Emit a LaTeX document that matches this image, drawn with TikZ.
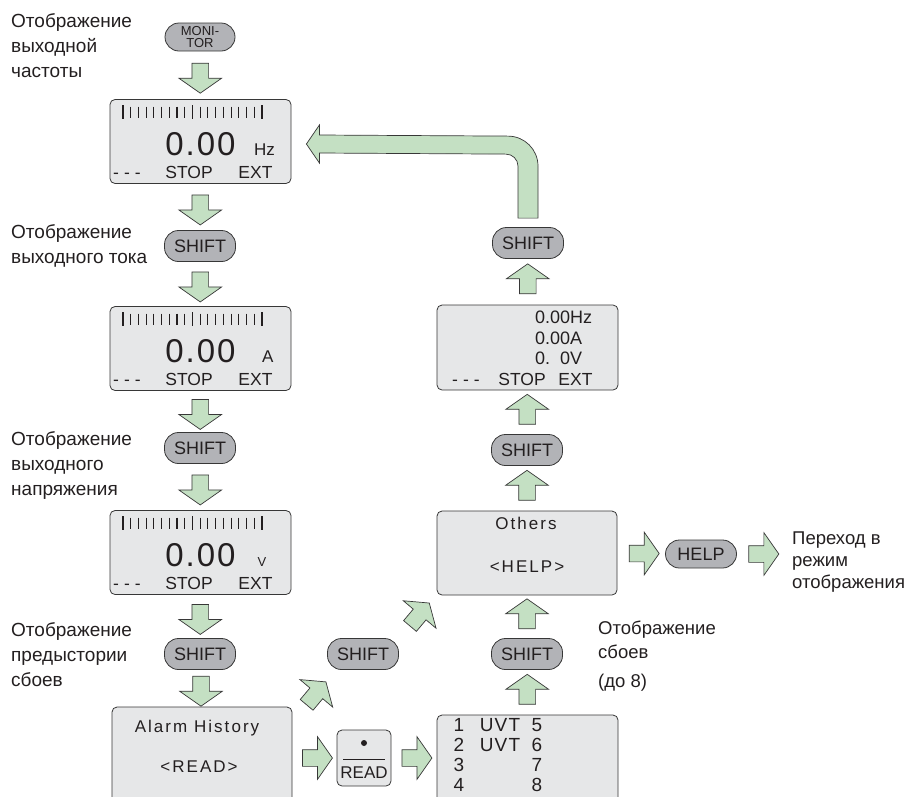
\documentclass[tikz,border=0pt]{standalone}
\usepackage{fontspec}
\setmainfont{Liberation Sans}
\usetikzlibrary{shapes.arrows,calc}

\definecolor{arrowgreen}{RGB}{196,224,195}
\definecolor{keygray}{RGB}{178,179,183}
\definecolor{panelgray}{RGB}{230,231,232}
\definecolor{edgegray}{RGB}{55,55,55}
\definecolor{inkdark}{RGB}{35,31,32}

\tikzset{
  lcdbox/.style={draw=edgegray, fill=panelgray, rounded corners=5pt, line width=0.8pt,
    minimum width=181pt, minimum height=84pt, inner sep=0pt},
  keycap/.style={draw=edgegray, fill=keygray, rounded corners=14pt, line width=0.8pt,
    minimum width=71pt, minimum height=31pt, inner sep=0pt, font=\fontsize{18}{18}\selectfont},
  barrow/.style={single arrow, draw=edgegray, fill=arrowgreen, line width=0.7pt,
    minimum height=30pt, minimum width=42pt, single arrow head extend=13pt,
    single arrow tip angle=110, inner sep=8pt},
  bigarrow/.style={draw=edgegray, fill=arrowgreen, line width=0.7pt},
  tickmark/.style={draw=inkdark, line width=1.1pt},
  digits/.style={anchor=base, inner sep=0pt, font=\fontsize{33}{33}\selectfont\addfontfeature{LetterSpace=6}},
  unitlabel/.style={anchor=base west, inner sep=0pt, font=\fontsize{17}{17}\selectfont},
  lcdtext/.style={anchor=base, inner sep=0pt, font=\fontsize{17.5}{17.5}\selectfont},
  spaced/.style={inner sep=0pt, font=\fontsize{17}{17}\selectfont\addfontfeature{LetterSpace=12}},
  sidetext/.style={anchor=west, align=left, inner sep=0pt, font=\fontsize{19}{25}\selectfont},
}

% one frequency/current/voltage screen: name, centre, unit, unit x offset
\newcommand{\lcdpanel}[4]{%
  \node[lcdbox] (#1) at (#2) {};
  \foreach \i in {0,...,18}
    \draw[tickmark] ($(#1.center)+(-77.5+7.72*\i,-35)$) -- ++(0,11.5);
  \foreach \i in {0,9,18}
    \draw[tickmark, line width=1.7pt] ($(#1.center)+(-77.5+7.72*\i,-36.5)$) -- ++(0,14);
  \node[digits] (#1-val) at ($(#1.center)+(0,13.5)$) {0.00};
  \node[unitlabel] (#1-unit) at ($(#1.center)+(#4,13.5)$) {#3};
  \node[lcdtext, anchor=base west] (#1-dash) at ($(#1.center)+(-87.5,36.5)$) {-\hspace{5pt}-\hspace{5pt}-};
  \node[lcdtext] (#1-stop) at ($(#1.center)+(-11.5,36.5)$) {STOP};
  \node[lcdtext] (#1-ext) at ($(#1.center)+(55,36.5)$) {EXT};
}

\begin{document}
\begin{tikzpicture}[x=1pt, y=-1pt, text=inkdark]
  \clip (0,0) rectangle (915,796);

  % left column
  \node[keycap, minimum width=70pt, minimum height=28pt, align=center,
    font=\fontsize{13}{12}\selectfont] (mon) at (200,37) {MONI-\\TOR};
  \lcdpanel{d1}{200.5,141.5}{Hz}{53.5}
  \node[keycap] (s1) at (200,246) {SHIFT};
  \lcdpanel{d2}{200.5,348.5}{A}{61.5}
  \node[keycap] (s2) at (200,448) {SHIFT};
  \lcdpanel{d3}{200.5,552.5}{\fontsize{13}{13}\selectfont V}{57}
  \node[keycap] (s3) at (200,654) {SHIFT};
  \node[lcdbox, minimum width=180pt, minimum height=98pt] (alarm) at (202,756) {};
  \node[spaced] (alarm-t) at (197,728) {Alarm History};
  \node[spaced] (alarm-r) at (199,767) {<READ>};

  \node[barrow, rotate=-90] (a1) at ($(mon.south)!0.5!(d1.north)$) {};
  \node[barrow, rotate=-90] (a2) at ($(d1.south)!0.5!(s1.north)$) {};
  \node[barrow, rotate=-90] (a3) at ($(s1.south)!0.5!(d2.north)$) {};
  \node[barrow, rotate=-90] (a4) at ($(d2.south)!0.5!(s2.north)$) {};
  \node[barrow, rotate=-90] (a5) at ($(s2.south)!0.5!(d3.north)$) {};
  \node[barrow, rotate=-90] (a6) at ($(d3.south)!0.5!(s3.north)$) {};
  \node[barrow, rotate=-90] (a7) at ($(s3.south)!0.5!(alarm.north)$) {};

  % bottom row
  \node[draw=edgegray, fill=panelgray, rounded corners=5pt, line width=0.8pt,
    minimum width=54pt, minimum height=56pt] (rd) at (364,758) {};
  \fill[inkdark] ($(rd.center)+(0,-15)$) circle (3pt);
  \draw[inkdark, line width=0.8pt] ($(rd.center)+(-21,1)$) -- ($(rd.center)+(21,1)$);
  \node[inner sep=0pt, font=\fontsize{17}{17}\selectfont] (rd-t) at ($(rd.center)+(0,15)$) {READ};
  \node[lcdbox, minimum height=92pt] (errs) at (527.5,761) {};
  \foreach \n/\m/\t [count=\r from 0] in {1/5/UVT, 2/6/UVT, 3/7/, 4/8/} {
    \node[inner sep=0pt, font=\fontsize{19}{19}\selectfont] (errs-n\n) at (459,725+20*\r) {\n};
    \node[inner sep=0pt, font=\fontsize{19}{19}\selectfont\addfontfeature{LetterSpace=6}] (errs-t\n) at (500,725+20*\r) {\t};
    \node[inner sep=0pt, font=\fontsize{19}{19}\selectfont] (errs-m\n) at (537,725+20*\r) {\m};
  }
  \node[barrow] (b1) at ($(alarm.east |- rd.west)!0.5!(rd.west)$) {};
  \node[barrow] (b2) at ($(rd.east)!0.5!(errs.west |- rd.east)$) {};

  % right column
  \node[keycap] (s6) at (527,654) {SHIFT};
  \node[lcdbox, minimum width=180pt] (oth) at (527,553) {};
  \node[spaced] (oth-t) at (526,523) {Others};
  \node[spaced] (oth-h) at (527,567) {<HELP>};
  \node[keycap] (s4) at (527,450) {SHIFT};
  \node[lcdbox, minimum height=85pt] (d4) at (527.5,347.5) {};
  \node[unitlabel, font=\fontsize{18}{18}\selectfont] (d4-f) at ($(d4.center)+(7.5,-24)$) {0.00Hz};
  \node[unitlabel, font=\fontsize{18}{18}\selectfont] (d4-a) at ($(d4.center)+(7.5,-3.5)$) {0.00A};
  \node[unitlabel, font=\fontsize{18}{18}\selectfont] (d4-v) at ($(d4.center)+(7.5,17)$) {0.\ \ 0V};
  \node[lcdtext, anchor=base west] (d4-dash) at ($(d4.center)+(-75.5,38)$) {-\hspace{5pt}-\hspace{5pt}-};
  \node[lcdtext] (d4-stop) at ($(d4.center)+(-5.5,38)$) {STOP};
  \node[lcdtext] (d4-ext) at ($(d4.center)+(48,38)$) {EXT};
  \node[keycap] (s5) at (528,243) {SHIFT};

  \node[barrow, rotate=90] (r1) at ($(errs.north)!0.5!(s6.south)$) {};
  \node[barrow, rotate=90] (r2) at ($(s6.north)!0.5!(oth.south)$) {};
  \node[barrow, rotate=90] (r3) at ($(oth.north)!0.5!(s4.south)$) {};
  \node[barrow, rotate=90] (r4) at ($(s4.north)!0.5!(d4.south)$) {};
  \node[barrow, rotate=90] (r5) at ($(d4.north)!0.5!(s5.south)$) {};

  % diagonal branch
  \node[keycap] (s7) at (363,654) {SHIFT};
  \node[barrow, rotate=50] (c1) at ($(alarm.north east)+(22,-11)$) {};
  \node[barrow, rotate=50] (c2) at ($(s7.north east)!0.5!(oth.south west)$) {};

  % back to the frequency screen
  \draw[bigarrow]
    ($(d1.east)+(15,2.5)$) -- ++(13,-19) -- ++(0,10)
    -- ($(s5.north)+(-20,-91)$)
    .. controls +(16.6,0) and +(0,-16.6) .. ($(s5.north)+(10,-61)$)
    -- ($(s5.north)+(10,-9)$) -- ($(s5.north)+(-10,-9)$)
    -- ($(s5.north)+(-10,-61)$)
    .. controls +(0,-6.6) and +(6.6,0) .. ($(s5.north)+(-22,-73)$)
    -- ($(d1.east)+(28,11.5)$) -- ++(0,10) -- cycle;

  % help key
  \node[keycap, minimum height=28pt] (hlp) at (701,554) {HELP};
  \node[barrow] (h1) at ($(oth.east)!0.5!(hlp.west)$) {};
  \node[barrow] (h2) at ($(hlp.east)+(24,0)$) {};

  % captions
  \node[sidetext] (t1) at (11,46) {Отображение\\выходной\\частоты};
  \node[sidetext] (t2) at (11,246) {Отображение\\выходного тока};
  \node[sidetext] (t3) at (11,465) {Отображение\\выходного\\напряжения};
  \node[sidetext] (t4) at (11,655) {Отображение\\предыстории\\сбоев};
  \node[sidetext, font=\fontsize{18.5}{22}\selectfont] (t5) at (792,562) {Переход в\\режим\\отображения};
  \node[sidetext, font=\fontsize{18.5}{24}\selectfont] (t6) at (598,640) {Отображение\\сбоев};
  \node[anchor=west, inner sep=0pt, font=\fontsize{18.5}{24}\selectfont] (t7) at (598,683) {(до 8)};
\end{tikzpicture}
\end{document}
